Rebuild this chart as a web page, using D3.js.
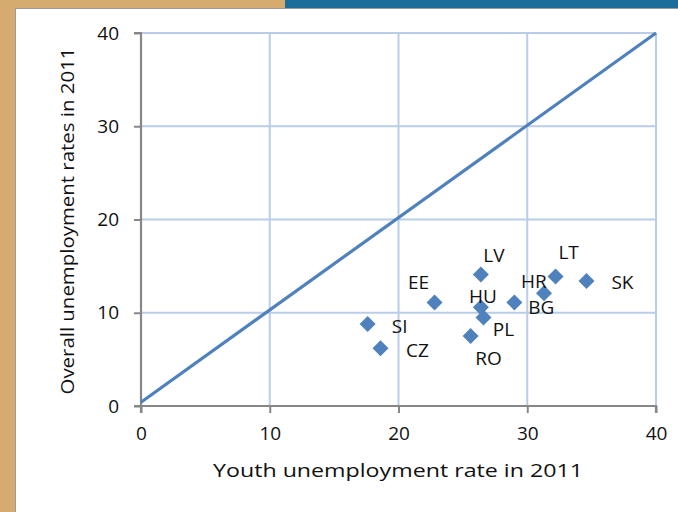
<!DOCTYPE html>
<html>
<head>
<meta charset="utf-8">
<script src="https://cdn.jsdelivr.net/npm/d3@7"></script>
<style>
  html, body { margin: 0; padding: 0; }
  body { width: 678px; height: 512px; overflow: hidden; background: #d6ab6f; }
  svg { display: block; font-family: "Open Sans", "Noto Sans", sans-serif; }
</style>
</head>
<body>
<svg id="chart" width="678" height="512"></svg>
<script>
// youth vs overall unemployment 2011, new member states
const countries = ["LV", "LT", "SK", "HR", "EE", "BG", "HU", "PL", "SI", "RO", "CZ"];
const youthRate = [26.4, 32.2, 34.6, 31.3, 22.8, 29.0, 26.4, 26.6, 17.6, 25.6, 18.6];
const overallRate = [14.1, 13.9, 13.4, 12.1, 11.1, 11.1, 10.6, 9.5, 8.8, 7.5, 6.2];
const refLine = [[0, 0.4], [40, 40]];
const xTicks = [0, 10, 20, 30, 40];
const yTicks = [0, 10, 20, 30, 40];

// label placement relative to the marker (pixels)
const labelOffset = {
  LV: [13, -20], LT: [13, -24], SK: [36, 1], HR: [-10, -12], EE: [-16, -20],
  BG: [27, 5], HU: [2, -11], PL: [20, 12], SI: [32, 2], RO: [18, 22], CZ: [37, 2],
};

const svg = d3.select("#chart");
const blue = "#4f81bd";
const grid = "#b9cde8";
const axisGray = "#878787";

// backdrop: tan slide, blue strip, white panel
svg.append("rect").attr("x", 285).attr("y", 0).attr("width", 393).attr("height", 9).attr("fill", "#1b6d9c");
svg.append("rect").attr("x", 15).attr("y", 8).attr("width", 663).attr("height", 504).attr("fill", "#9a9a9a");
svg.append("rect").attr("x", 16).attr("y", 9).attr("width", 662).attr("height", 503).attr("fill", "#ffffff");

const x = d3.scaleLinear().domain([0, 40]).range([141, 656]);
const y = d3.scaleLinear().domain([0, 40]).range([406, 33]);

// gridlines
svg.append("g").selectAll("line").data(xTicks.slice(1)).join("line")
  .attr("x1", (d) => x(d)).attr("x2", (d) => x(d))
  .attr("y1", y(0)).attr("y2", y(40))
  .attr("stroke", grid).attr("stroke-width", 2);
svg.append("g").selectAll("line").data(yTicks.slice(1)).join("line")
  .attr("x1", x(0)).attr("x2", x(40))
  .attr("y1", (d) => y(d)).attr("y2", (d) => y(d))
  .attr("stroke", grid).attr("stroke-width", 2);

// axes
const xAxis = svg.append("g").attr("transform", `translate(0,${y(0)})`)
  .call(d3.axisBottom(x).tickValues(xTicks).tickSize(7).tickPadding(14));
const yAxis = svg.append("g").attr("transform", `translate(${x(0)},0)`)
  .call(d3.axisLeft(y).tickValues(yTicks).tickSize(7).tickPadding(15));
for (const ax of [xAxis, yAxis]) {
  ax.select(".domain").attr("stroke", axisGray).attr("stroke-width", 2.2);
  ax.selectAll(".tick line").attr("stroke", axisGray).attr("stroke-width", 2);
  ax.selectAll(".tick text").attr("fill", "#111").attr("font-size", 19)
    .attr("font-family", "'Open Sans', sans-serif");
}
xAxis.select(".domain").attr("d", `M${x(0)},7V0H${x(40)}V7`);
yAxis.select(".domain").attr("d", `M-7,${y(40)}H0V${y(0)}H-7`);

// reference line y = x
svg.append("path")
  .datum(refLine)
  .attr("d", d3.line().x((d) => x(d[0])).y((d) => y(d[1])))
  .attr("stroke", blue).attr("stroke-width", 3.2).attr("fill", "none");

// markers
const pts = countries.map((c, i) => ({ c, xv: youthRate[i], yv: overallRate[i] }));
svg.append("g").selectAll("path").data(pts).join("path")
  .attr("d", d3.symbol().type(d3.symbolSquare).size(128))
  .attr("transform", (d) => `translate(${x(d.xv)},${y(d.yv)}) rotate(45)`)
  .attr("fill", blue);

svg.append("g").selectAll("text").data(pts).join("text")
  .attr("x", (d) => x(d.xv) + labelOffset[d.c][0])
  .attr("y", (d) => y(d.yv) + labelOffset[d.c][1])
  .attr("text-anchor", "middle").attr("dominant-baseline", "central")
  .attr("font-size", 19).attr("fill", "#111")
  .text((d) => d.c);

// axis titles
svg.append("text")
  .attr("x", 398).attr("y", 470)
  .attr("text-anchor", "middle").attr("dominant-baseline", "central")
  .attr("font-size", 18).attr("fill", "#111")
  .attr("textLength", 370).attr("lengthAdjust", "spacingAndGlyphs")
  .text("Youth unemployment rate in 2011");
svg.append("text")
  .attr("transform", "translate(67,221) rotate(-90)")
  .attr("text-anchor", "middle").attr("dominant-baseline", "central")
  .attr("font-size", 18).attr("fill", "#111")
  .attr("textLength", 347).attr("lengthAdjust", "spacingAndGlyphs")
  .text("Overall unemployment rates in 2011");
</script>
</body>
</html>
